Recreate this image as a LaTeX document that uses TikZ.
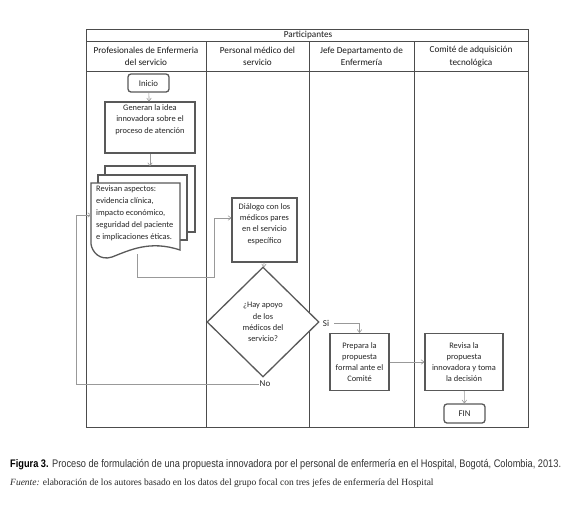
\documentclass[tikz,border=0pt]{standalone}
\usepackage{fontspec}
\setmainfont{Carlito}
\newfontfamily\capsans[FakeStretch=0.84]{Liberation Sans}
\newfontfamily\capserif{Liberation Serif}
\usetikzlibrary{shapes.geometric,arrows.meta}
\tikzset{
  tbl/.style={draw=black!70, line width=0.9pt},
  hdr/.style={font=\fontsize{9.2}{12.5}\selectfont, align=center, text=black!90, inner sep=0pt},
  box/.style={draw=black!65, line width=1.3pt, fill=white, font=\fontsize{8.4}{11.2}\selectfont, align=center, inner sep=1pt, text=black!85},
  term/.style={box, rounded corners=3pt, font=\fontsize{8.8}{10}\selectfont},
  sheet/.style={draw=black!65, line width=1.3pt, fill=white},
  conn/.style={draw=black!40, line width=0.6pt, -{To[length=3.5pt,width=5pt]}},
  lbl/.style={font=\fontsize{9}{10}\selectfont, text=black!85, inner sep=1pt},
}
\begin{document}
\begin{tikzpicture}[x=1pt,y=-1pt]
\path[use as bounding box, fill=white] (0,0) rectangle (580,504);

% table
\draw[tbl] (86,29) rectangle (528,427);
\draw[tbl] (86,41) -- (528,41);
\draw[tbl] (86,71) -- (528,71);
\foreach \xx in {206,309,414} \draw[tbl] (\xx,41) -- (\xx,427);
\node[hdr] (part) at (308,35) {Participantes};
\node[hdr] (h1) at (146,56.5) {Profesionales de Enfermeria\\del servicio};
\node[hdr] (h2) at (257.5,56.5) {Personal médico del\\servicio};
\node[hdr] (h3) at (361.5,56.5) {Jefe Departamento de\\Enfermería};
\node[hdr] (h4) at (471,56.5) {Comité de adquisición\\tecnológica};

% nodes
\node[term, minimum width=41pt, minimum height=18pt] (inicio) at (148.5,83) {Inicio};
\node[box, minimum width=90pt, minimum height=51pt] (generan) at (150,127.5)
  {Generan la idea\\innovadora sobre el\\proceso de atención\\[6pt]};

% document stack
\draw[sheet] (105,166) rectangle (195,232);
\draw[sheet] (98,175) rectangle (187,240);
\draw[sheet] (91,183) -- (180,183) -- (180,250)
  .. controls (150,240) and (130,250) .. (112,257)
  .. controls (100,261) and (92,252) .. (91,244) -- cycle;
\node[font=\fontsize{8.4}{11.8}\selectfont, align=left, anchor=north west, inner sep=0pt, text=black!85]
  (revisan) at (96,186) {Revisan aspectos:\\evidencia clínica,\\impacto económico,\\seguridad del paciente\\e implicaciones éticas.};
\coordinate (docback) at (150,166);
\coordinate (docout) at (137,254);
\coordinate (docleft) at (91,215);

\node[box, minimum width=65pt, minimum height=64pt] (dialogo) at (264.5,230)
  {Diálogo con los\\médicos pares\\en el servicio\\específico\\[2pt]};
\node[box, shape=diamond, minimum width=112pt, minimum height=110pt, inner sep=0pt] (decision) at (263,322)
  {¿Hay apoyo\\de los\\médicos del\\servicio?};
\node[lbl] (si) at (326,323) {Si};
\node[lbl] (no) at (265,384) {No};
\node[box, minimum width=59pt, minimum height=57pt] (prepara) at (359.5,362)
  {Prepara la\\propuesta\\formal ante el\\Comité};
\node[box, minimum width=78pt, minimum height=57pt] (revisa) at (464,362)
  {Revisa la\\propuesta\\innovadora y toma\\la decisión};
\node[term, minimum width=41pt, minimum height=19pt] (fin) at (464.5,413.5) {FIN};

% connectors
\coordinate (j1) at (214,277);
\coordinate (loopc) at (76,215);
\draw[conn] (inicio) -- (generan);
\draw[conn] (generan) -- (docback);
\draw[conn] (docout) |- (j1) |- ([yshift=12pt]dialogo.west);
\draw[conn] (dialogo) -- (decision);
\draw[conn] (si.east) ++(4pt,0pt) -| (prepara.north);
\draw[conn] (prepara.east) -- (prepara.east -| revisa.west);
\draw[conn] (revisa) -- (fin);
\draw[conn] (no.west) -| (loopc) -- (docleft);

% caption
\node[anchor=base west, inner sep=0pt, font=\capsans\fontsize{11}{13}\selectfont, text=black!80] (cap1) at (10,467)
  {\textbf{\color{black}Figura 3.} Proceso de formulación de una propuesta innovadora por el personal de enfermería en el Hospital, Bogotá, Colombia, 2013.};
\node[anchor=base west, inner sep=0pt, font=\capserif\fontsize{9.5}{11}\selectfont, text=black!85] (cap2) at (10,485)
  {\textit{Fuente:} elaboración de los autores basado en los datos del grupo focal con tres jefes de enfermería del Hospital};
\end{tikzpicture}
\end{document}
